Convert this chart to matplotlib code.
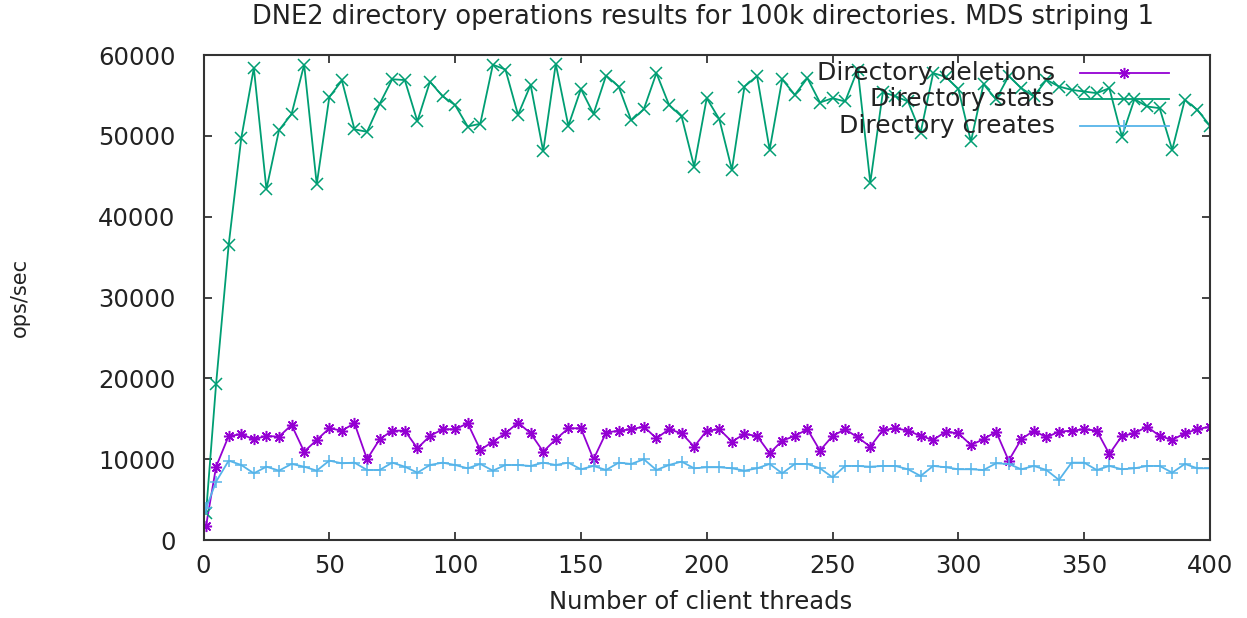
import matplotlib
matplotlib.use('Agg')
import matplotlib.pyplot as plt

# thread counts sampled by the benchmark
threads = [1] + list(range(5, 405, 5))

deletions = [1730, 9070, 12870, 13080, 12460, 12870, 12790, 14230, 10930, 12380,
             13820, 13530, 14440, 9990, 12460, 13530, 13530, 11350, 12870, 13700,
             13700, 14440, 11140, 12170, 13200, 14520, 13200, 10930, 12460, 13820,
             13820, 9990, 13280, 13530, 13700, 14030, 12580, 13700, 13200, 11550,
             13530, 13700, 12170, 13120, 12870, 10730, 12290, 12870, 13700, 11060,
             12870, 13700, 12700, 11550, 13610, 13820, 13530, 12870, 12380, 13410,
             13200, 11760, 12460, 13410, 9820, 12460, 13530, 12700, 13410, 13530,
             13700, 13530, 10640, 12870, 13200, 14030, 12870, 12380, 13200, 13700,
             14030]

stats = [3300, 19300, 36500, 49700, 58400, 43400, 50700, 52700, 58800, 44000,
         54800, 56850, 50800, 50500, 53950, 57000, 56900, 51800, 56700, 54900,
         53800, 51150, 51500, 58800, 58200, 52600, 56300, 48100, 58900, 51240,
         55800, 52720, 57460, 56100, 51900, 53300, 57760, 53840, 52400, 46200,
         54660, 52060, 45800, 56100, 57400, 48270, 57000, 55070, 57140, 54120,
         54660, 54250, 58200, 44200, 55400, 54900, 54250, 50400, 57760, 57300,
         55800, 49300, 56400, 54500, 57400, 55900, 54870, 56930, 56100, 55690,
         55480, 55280, 55900, 49910, 54540, 53630, 53420, 48270, 54460, 53220,
         51240]

creates = [3920, 7220, 9820, 9280, 8250, 9070, 8580, 9410, 9070, 8580,
           9820, 9490, 9570, 8660, 8660, 9570, 9070, 8330, 9280, 9570,
           9280, 8870, 9410, 8580, 9280, 9280, 9160, 9570, 9280, 9570,
           8750, 9160, 8660, 9570, 9410, 9990, 8660, 9280, 9700, 8870,
           9000, 9000, 8870, 8580, 8870, 9410, 8250, 9410, 9410, 8870,
           7760, 9160, 9160, 9070, 9160, 9160, 8750, 7920, 9160, 9000,
           8750, 8750, 8660, 9490, 9410, 8750, 9160, 8660, 7430, 9570,
           9570, 8660, 9160, 8750, 8870, 9160, 9160, 8330, 9410, 8870,
           8870]

labels = ['Directory deletions', 'Directory stats', 'Directory creates']
colors = ['#9400d3', '#009e73', '#56b4e9']
markers = [(8, 2, 0), 'x', '+']
msizes = [8, 9, 9]
txt = '#222222'

plt.rcParams['font.family'] = ['DejaVu Sans']
fig = plt.figure(figsize=(12.47, 6.18), dpi=100)
ax = fig.add_axes([0.1632, 0.1262, 0.8071, 0.7848])

series = [deletions, stats, creates]
for vals, lab, col, mk, ms in zip(series, labels, colors, markers, msizes):
    ax.plot(threads, vals, color=col, lw=1.3, marker=mk, markersize=ms,
            markeredgewidth=1.1, label=lab)

ax.set_xlim(0, 400)
ax.set_ylim(0, 60000)
ax.set_xticks(range(0, 401, 50))
ax.set_yticks(range(0, 60001, 10000))
ax.tick_params(direction='in', length=6, width=1.2, top=True, right=True,
               labelsize=17.5, colors=txt)
ax.tick_params(axis='x', pad=10)
ax.tick_params(axis='y', pad=20)
for sp in ax.spines.values():
    sp.set_linewidth(1.5)
    sp.set_color('#333333')

fig.text(0.564, 1 - 17 / 618, 'DNE2 directory operations results for 100k directories. MDS striping 1',
         ha='center', va='center', fontsize=18.5, color=txt)
ax.set_xlabel('Number of client threads', fontsize=17.5, color=txt, va='center')
ax.xaxis.set_label_coords(0.4935, -0.128)
ax.set_ylabel('ops/sec', fontsize=15, color=txt, va='center')
ax.yaxis.set_label_coords(-0.182, 0.5)

# gnuplot-style key: right-aligned text, sample line to the right
for i, (lab, col, mk, ms) in enumerate(zip(labels, colors, markers, msizes)):
    yy = 0.963 - i * 0.0545
    ax.text(0.846, yy, lab, transform=ax.transAxes, ha='right', va='center',
            fontsize=18, color=txt)
    ax.plot([0.871, 0.959], [yy, yy], transform=ax.transAxes, color=col, lw=1.3)
    ax.plot([0.915], [yy], transform=ax.transAxes, color=col, marker=mk,
            markersize=ms, markeredgewidth=1.1)

fig.savefig('out.png', dpi=100)
